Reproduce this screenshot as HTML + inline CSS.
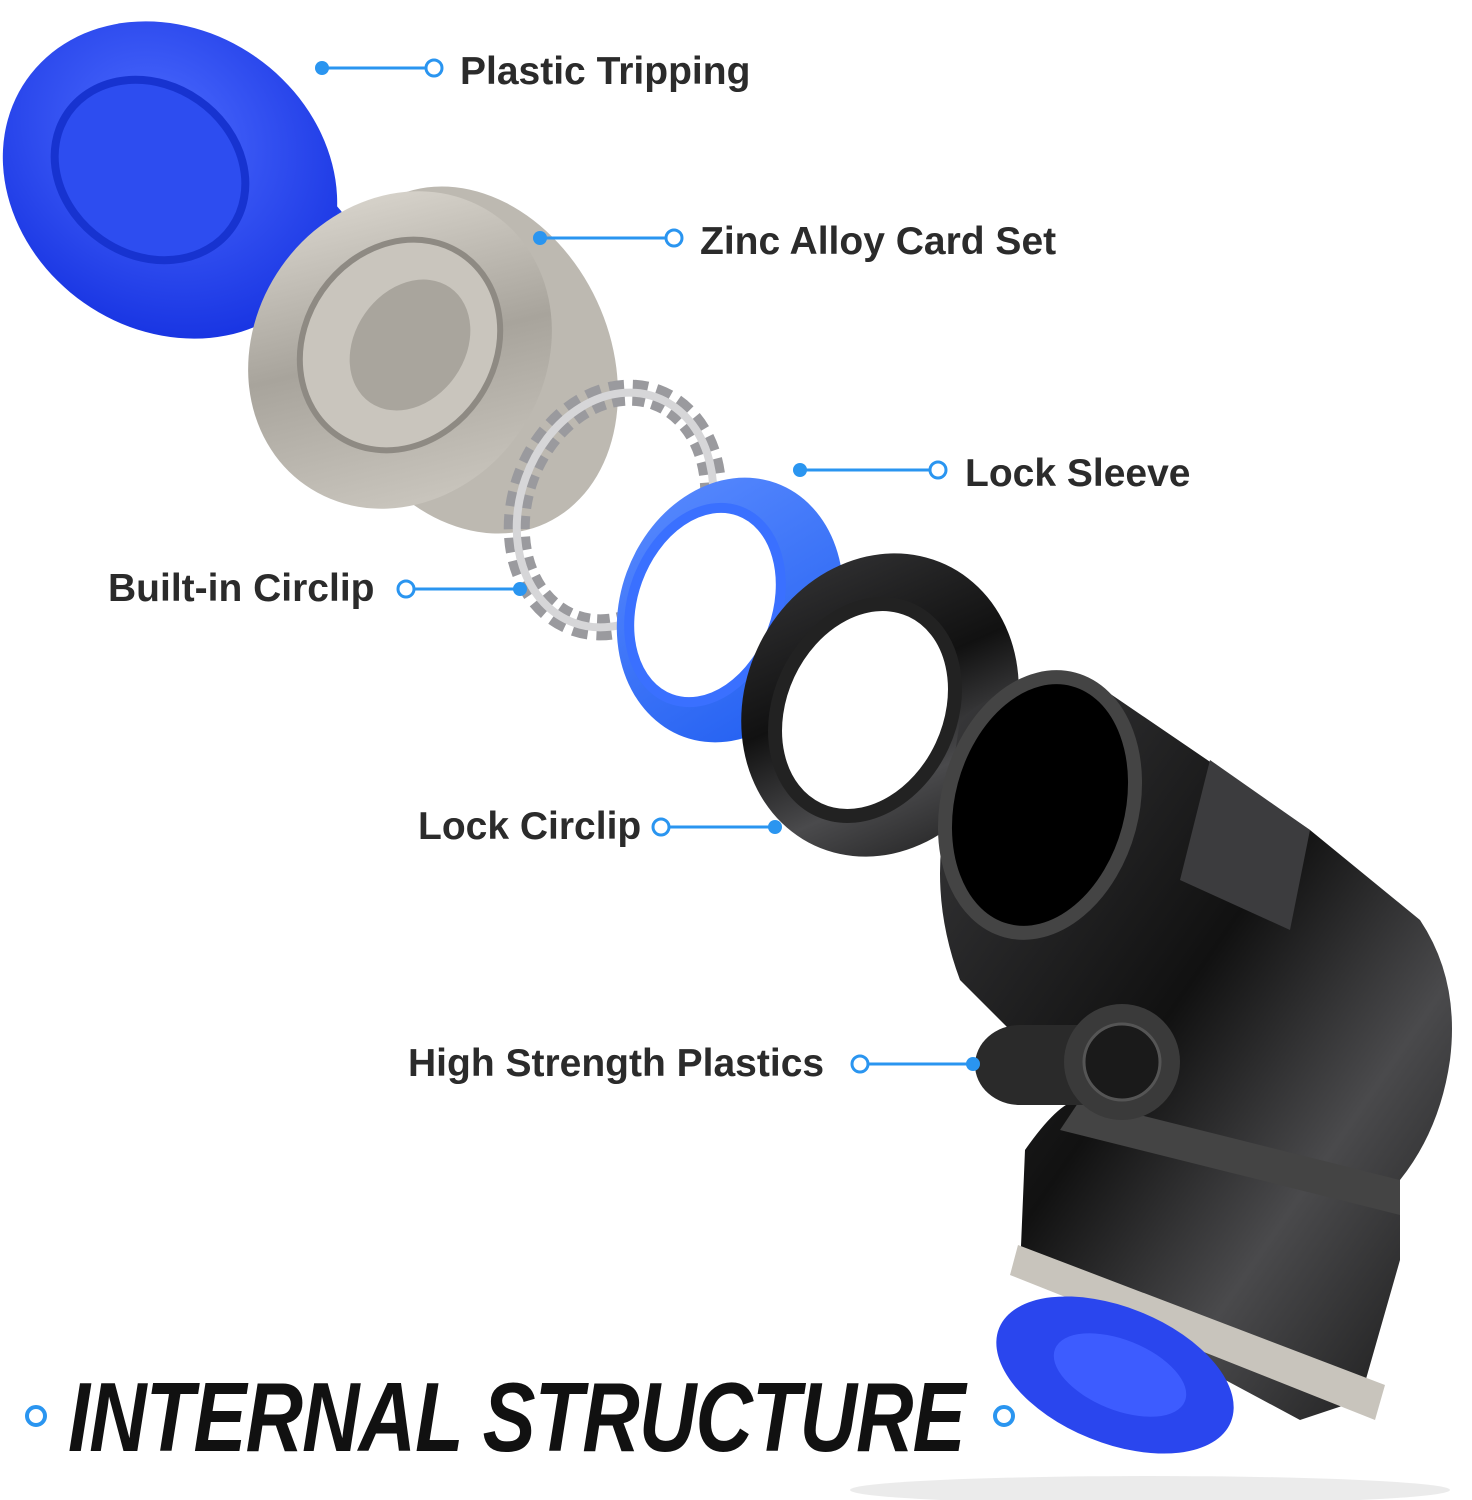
<!DOCTYPE html>
<html><head><meta charset="utf-8"><style>
html,body{margin:0;padding:0;background:#fff;}
body{width:1472px;height:1500px;position:relative;overflow:hidden;font-family:"Liberation Sans",sans-serif;}
svg{position:absolute;left:0;top:0;}
.lbl{position:absolute;font-weight:bold;font-size:39px;color:#2b2b2b;white-space:nowrap;line-height:1;}
.title{position:absolute;left:68px;top:1368px;font-weight:900;font-style:italic;font-size:98px;color:#111;white-space:nowrap;line-height:1;letter-spacing:-1px;transform:scaleX(0.81);transform-origin:left;}
</style></head><body>
<svg width="1472" height="1500" viewBox="0 0 1472 1500">
<defs>
<radialGradient id="blue" cx="0.4" cy="0.4" r="0.7"><stop offset="0" stop-color="#4d6cff"/><stop offset="1" stop-color="#1430e0"/></radialGradient>
<linearGradient id="zinc" x1="0" y1="0" x2="1" y2="1"><stop offset="0" stop-color="#e8e4dc"/><stop offset="0.5" stop-color="#a8a49c"/><stop offset="1" stop-color="#d6d2ca"/></linearGradient>
<linearGradient id="blk" x1="0" y1="0" x2="1" y2="1"><stop offset="0" stop-color="#3a3a3c"/><stop offset="0.45" stop-color="#111"/><stop offset="0.7" stop-color="#4a4a4c"/><stop offset="1" stop-color="#151515"/></linearGradient>
<linearGradient id="lblue" x1="0" y1="0" x2="1" y2="1"><stop offset="0" stop-color="#5b8cff"/><stop offset="1" stop-color="#1e5cf0"/></linearGradient>
</defs>
<ellipse cx="290" cy="260" rx="70" ry="90" transform="rotate(-30 290 260)" fill="#2040e6"/>
<ellipse cx="170" cy="180" rx="175" ry="150" transform="rotate(35 170 180)" fill="url(#blue)"/>
<ellipse cx="150" cy="170" rx="100" ry="85" transform="rotate(35 150 170)" fill="#2d4df0" stroke="#1733d0" stroke-width="8"/>
<ellipse cx="470" cy="360" rx="140" ry="180" transform="rotate(-25 470 360)" fill="#bdb9b1"/>
<ellipse cx="400" cy="350" rx="145" ry="165" transform="rotate(35 400 350)" fill="url(#zinc)"/>
<ellipse cx="400" cy="345" rx="95" ry="110" transform="rotate(35 400 345)" fill="#c9c5bd" stroke="#8e8a83" stroke-width="6"/>
<ellipse cx="410" cy="345" rx="55" ry="70" transform="rotate(35 410 345)" fill="#a9a59d"/>
<ellipse cx="615" cy="510" rx="95" ry="120" transform="rotate(20 615 510)" fill="none" stroke="#9a9a9e" stroke-width="26" stroke-dasharray="14 8"/>
<ellipse cx="615" cy="510" rx="95" ry="120" transform="rotate(20 615 510)" fill="none" stroke="#d6d6d8" stroke-width="8"/>
<ellipse cx="730" cy="610" rx="110" ry="135" transform="rotate(20 730 610)" fill="url(#lblue)"/>
<ellipse cx="705" cy="605" rx="72" ry="100" transform="rotate(20 705 605)" fill="#fff" stroke="#3a70ff" stroke-width="10"/>
<ellipse cx="880" cy="705" rx="135" ry="155" transform="rotate(25 880 705)" fill="url(#blk)"/>
<ellipse cx="865" cy="710" rx="85" ry="110" transform="rotate(25 865 710)" fill="#fff" stroke="#222" stroke-width="14"/>
<path d="M960,720 Q1000,680 1090,680 L1310,830 L1420,920 Q1460,980 1450,1060 Q1440,1130 1400,1180 L1400,1260 L1360,1400 L1300,1420 L1020,1270 L1025,1150 Q1060,1100 1080,1100 L960,980 Q930,900 945,820 Z" fill="url(#blk)"/>
<path d="M1210,760 L1310,830 L1290,930 L1180,880 Z" fill="#3c3c3e"/>
<path d="M1080,1100 L1400,1180 L1400,1215 L1060,1130 Z" fill="#444"/>
<ellipse cx="1040" cy="805" rx="92" ry="130" transform="rotate(15 1040 805)" fill="#000" stroke="#444" stroke-width="14"/>
<path d="M1018,1245 L1385,1385 L1375,1420 L1010,1275 Z" fill="#c8c4bc"/>
<ellipse cx="1020" cy="1065" rx="45" ry="40" fill="#2a2a2a"/>
<rect x="1020" y="1025" width="100" height="80" fill="#2a2a2a"/>
<circle cx="1122" cy="1062" r="58" fill="#3a3a3a"/>
<circle cx="1122" cy="1062" r="38" fill="#1a1a1a" stroke="#555" stroke-width="3"/>
<ellipse cx="1115" cy="1375" rx="125" ry="68" transform="rotate(22 1115 1375)" fill="#2a46ee"/>
<ellipse cx="1120" cy="1375" rx="70" ry="35" transform="rotate(22 1120 1375)" fill="#3d5cff"/>
<ellipse cx="1150" cy="1490" rx="300" ry="14" fill="#ddd" opacity="0.6"/>
<g stroke="#2a95f0" stroke-width="3" fill="none">
<line x1="322" y1="68" x2="428" y2="68"/><circle cx="434" cy="68" r="8" fill="#fff"/>
<line x1="540" y1="238" x2="667" y2="238"/><circle cx="674" cy="238" r="8" fill="#fff"/>
<line x1="800" y1="470" x2="931" y2="470"/><circle cx="938" cy="470" r="8" fill="#fff"/>
<line x1="413" y1="589" x2="520" y2="589"/><circle cx="406" cy="589" r="8" fill="#fff"/>
<line x1="668" y1="827" x2="775" y2="827"/><circle cx="661" cy="827" r="8" fill="#fff"/>
<line x1="867" y1="1064" x2="973" y2="1064"/><circle cx="860" cy="1064" r="8" fill="#fff"/>
<circle cx="36" cy="1416" r="9" fill="#fff" stroke-width="4"/>
<circle cx="1004" cy="1416" r="9" fill="#fff" stroke-width="4"/>
</g>
<g fill="#2a95f0">
<circle cx="322" cy="68" r="7"/><circle cx="540" cy="238" r="7"/><circle cx="800" cy="470" r="7"/>
<circle cx="520" cy="589" r="7"/><circle cx="775" cy="827" r="7"/><circle cx="973" cy="1064" r="7"/>
</g>
</svg>
<div class="lbl" style="left:460px;top:52px">Plastic Tripping</div>
<div class="lbl" style="left:700px;top:222px">Zinc Alloy Card Set</div>
<div class="lbl" style="left:965px;top:454px">Lock Sleeve</div>
<div class="lbl" style="left:108px;top:569px">Built-in Circlip</div>
<div class="lbl" style="left:418px;top:807px">Lock Circlip</div>
<div class="lbl" style="left:408px;top:1044px">High Strength Plastics</div>
<div class="title">INTERNAL STRUCTURE</div>
</body></html>
